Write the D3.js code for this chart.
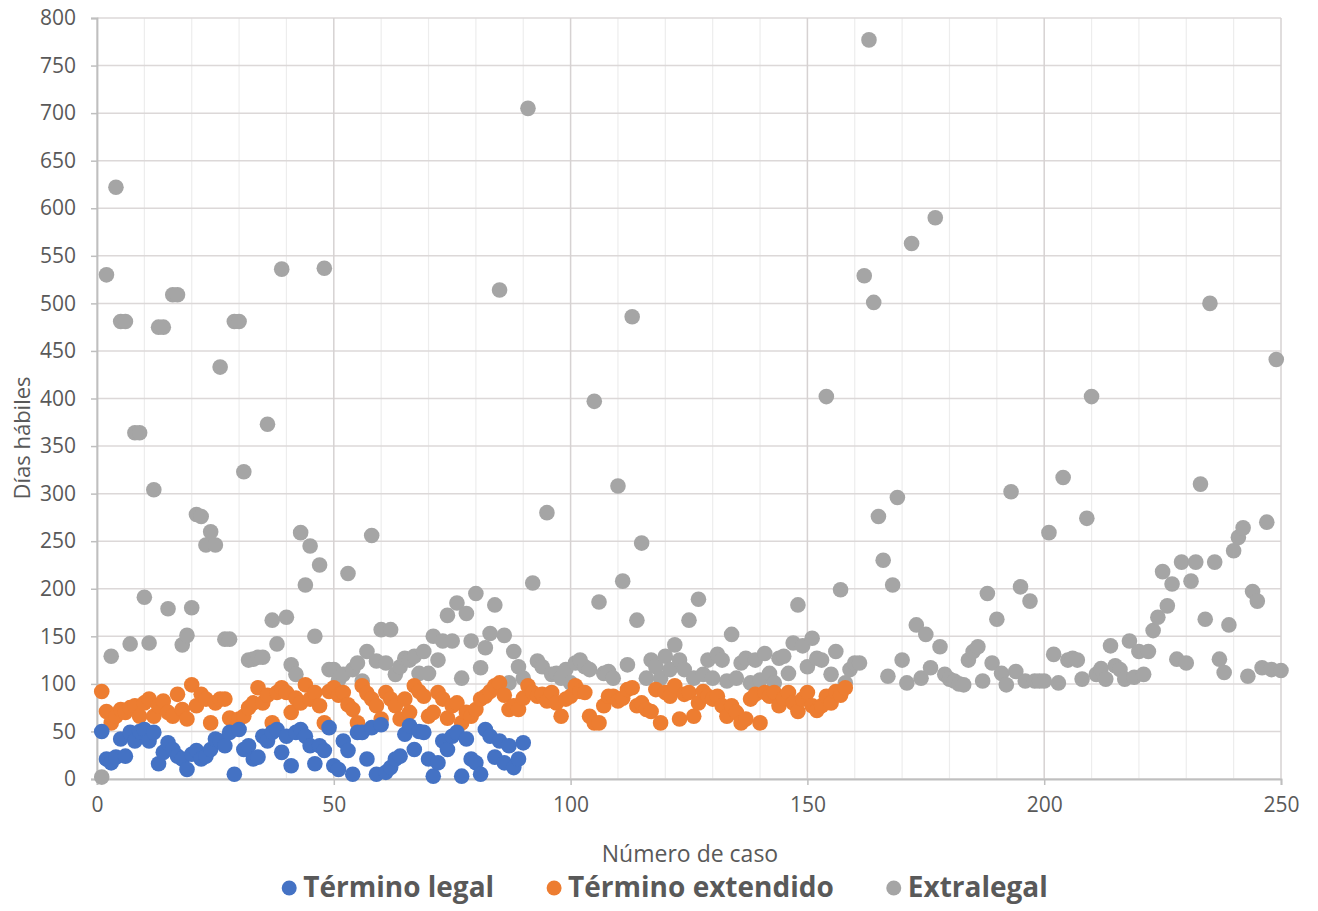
<!DOCTYPE html>
<html>
<head>
<meta charset="utf-8">
<script src="https://cdn.jsdelivr.net/npm/d3@7"></script>
<style>
  body { margin: 0; background: #fff; }
  svg text { font-family: "Open Sans", "DejaVu Sans", sans-serif; }
</style>
</head>
<body>
<svg id="chart" width="1318" height="911"></svg>
<script>
// días hábiles por número de caso (el caso = posición + 1)
var legalDays = [50, 21, 17, 23, 42, 24, 49, 40, 50, 52, 40, 49, 16, 28, 38, 31, 24, 21, 10, 26,
  30, 21, 24, 31, 42, 40, 35, 49, 5, 52, 31, 35, 21, 23, 45, 40, 49, 52, 28, 45,
  14, 49, 52, 45, 35, 16, 35, 30, 54, 14, 10, 40, 30, 5, 49, 49, 21, 54, 5, 57,
  7, 12, 21, 24, 47, 56, 31, 50, 49, 21, 3, 17, 40, 31, 45, 49, 3, 42, 21, 17,
  5, 52, 45, 23, 40, 17, 35, 12, 21, 38];

var extendedDays = [92, 71, 59, 66, 73, 70, 75, 77, 66, 80, 84, 66, 77, 82, 70, 66, 89, 73, 63, 99,
  77, 89, 84, 59, 80, 84, 84, 64, 61, 63, 66, 75, 80, 96, 80, 88, 59, 91, 96, 91,
  70, 85, 80, 99, 84, 91, 77, 59, 92, 96, 88, 91, 78, 73, 59, 98, 90, 84, 77, 63,
  91, 84, 77, 63, 84, 70, 98, 92, 87, 66, 70, 91, 84, 64, 77, 80, 59, 70, 66, 73,
  84, 87, 92, 98, 101, 88, 73, 77, 73, 85, 98, 91, 87, 89, 82, 91, 80, 66, 84, 87,
  98, 92, 91, 66, 59, 59, 77, 87, 87, 82, 85, 94, 96, 77, 80, 73, 71, 94, 59, 91,
  87, 98, 63, 89, 91, 66, 80, 92, 87, 84, 87, 77, 66, 77, 70, 59, 63, 84, 89, 59,
  91, 87, 91, 77, 85, 91, 80, 71, 84, 91, 77, 72, 77, 87, 80, 92, 88, 96];

var extralegalDays = [2, 530, 129, 622, 481, 481, 142, 364, 364, 191,
  143, 304, 475, 475, 179, 509, 509, 141, 151, 180,
  278, 276, 246, 260, 246, 433, 147, 147, 481, 481,
  323, 125, 126, 128, 128, 373, 167, 142, 536, 170,
  120, 110, 259, 204, 245, 150, 225, 537, 115, 115,
  104, 110, 216, 115, 122, 103, 134, 256, 124, 157,
  122, 157, 110, 118, 127, 125, 129, 111, 134, 111,
  150, 125, 145, 172, 145, 185, 106, 174, 145, 195,
  117, 138, 153, 183, 514, 151, 101, 134, 118, 106,
  705, 206, 124, 118, 280, 110, 111, 106, 115, 101,
  122, 125, 118, 115, 397, 186, 111, 113, 106, 308,
  208, 120, 486, 167, 248, 106, 125, 118, 106, 129,
  115, 141, 125, 115, 167, 106, 189, 110, 125, 106,
  131, 125, 103, 152, 106, 122, 127, 101, 125, 104,
  132, 111, 101, 127, 129, 111, 143, 183, 140, 118,
  148, 127, 125, 402, 110, 134, 199, 101, 115, 122,
  122, 529, 777, 501, 276, 230, 108, 204, 296, 125,
  101, 563, 162, 106, 152, 117, 590, 139, 110, 105,
  103, 100, 99, 125, 134, 139, 103, 195, 122, 168,
  111, 99, 302, 113, 202, 103, 187, 103, 103, 103,
  259, 131, 101, 317, 125, 127, 125, 105, 274, 402,
  110, 116, 105, 140, 119, 115, 105, 145, 107, 134,
  110, 134, 156, 170, 218, 182, 205, 126, 228, 122,
  208, 228, 310, 168, 500, 228, 126, 112, 162, 240,
  254, 264, 108, 197, 187, 117, 270, 115, 441, 114];

var seriesNames = ["Término legal", "Término extendido", "Extralegal"];
var seriesColors = ["#4472C4", "#ED7D31", "#A5A5A5"];
var xTicks = [0, 50, 100, 150, 200, 250];
var xMinor = [10, 20, 30, 40, 60, 70, 80, 90, 110, 120, 130, 140, 160, 170, 180, 190, 210, 220, 230, 240];
var yTicks = [0, 50, 100, 150, 200, 250, 300, 350, 400, 450, 500, 550, 600, 650, 700, 750, 800];

var margin = { left: 97, right: 37, top: 18, bottom: 132 };
var width = 1318 - margin.left - margin.right,
    height = 911 - margin.top - margin.bottom;

var svg = d3.select("#chart");
var g = svg.append("g")
    .attr("transform", "translate(" + margin.left + "," + margin.top + ")");

var x = d3.scaleLinear().domain([0, 250]).range([0, width]);
var y = d3.scaleLinear().domain([0, 800]).range([height, 0]);

// rejilla
g.selectAll(".minor").data(xMinor).enter().append("line")
    .attr("x1", function(d){ return x(d); }).attr("x2", function(d){ return x(d); })
    .attr("y1", 0).attr("y2", height)
    .style("stroke", "#ededed").style("stroke-width", 1.2);

g.selectAll(".hgrid").data(yTicks).enter().append("line")
    .attr("x1", 0).attr("x2", width)
    .attr("y1", function(d){ return y(d); }).attr("y2", function(d){ return y(d); })
    .style("stroke", "#dcd8d8").style("stroke-width", 1.5);

g.selectAll(".vgrid").data(xTicks).enter().append("line")
    .attr("x1", function(d){ return x(d); }).attr("x2", function(d){ return x(d); })
    .attr("y1", 0).attr("y2", height)
    .style("stroke", "#d6d2d2").style("stroke-width", 1.5);

// ejes
var yAxis = g.append("g").call(d3.axisLeft(y).tickValues(yTicks).tickSize(6).tickPadding(15));
var xAxis = g.append("g").attr("transform", "translate(0," + height + ")")
    .call(d3.axisBottom(x).tickValues(xTicks).tickSize(6).tickPadding(12));

[yAxis, xAxis].forEach(function(a){
    a.select(".domain").style("stroke", "#bfbfbf").style("stroke-width", 1.8);
    a.selectAll(".tick line").style("stroke", "#bfbfbf").style("stroke-width", 1.5);
    a.selectAll(".tick text")
        .style("font-family", "'Open Sans', sans-serif")
        .style("font-size", "21px")
        .style("fill", "#595959");
});

// puntos
var series = [extralegalDays, extendedDays, legalDays];
var colorOf = [seriesColors[2], seriesColors[1], seriesColors[0]];

series.forEach(function(values, s){
    g.append("g").selectAll("circle")
        .data(values)
        .enter()
        .append("circle")
        .attr("cx", function(d, i){ return x(i + 1); })
        .attr("cy", function(d){ return y(d); })
        .attr("r", 7.8)
        .style("fill", colorOf[s]);
});

// títulos de ejes
svg.append("text")
    .attr("x", 690).attr("y", 862)
    .attr("text-anchor", "middle")
    .style("font-size", "23px")
    .style("fill", "#595959")
    .text("Número de caso");

svg.append("text")
    .attr("transform", "translate(30,438) rotate(-90)")
    .attr("text-anchor", "middle")
    .style("font-size", "22px")
    .style("fill", "#595959")
    .text("Días hábiles");

// leyenda
var legend = svg.append("g");
var items = legend.selectAll("g").data(seriesNames).enter().append("g");
items.append("circle").attr("r", 7.5).attr("cy", -9)
    .style("fill", function(d, i){ return seriesColors[i]; });
items.append("text").attr("x", 14)
    .style("font-size", "28px").style("font-weight", "bold")
    .style("fill", "#595959")
    .text(function(d){ return d; });

var offset = 0;
var widths = [];
items.each(function(){
    widths.push(d3.select(this).select("text").node().getComputedTextLength() + 14);
});
var gap = 60;
var total = d3.sum(widths) + gap * (widths.length - 1) + 7;
var start = 665 - total / 2 + 7;
items.attr("transform", function(d, i){
    var tx = start + offset;
    offset += widths[i] + gap;
    return "translate(" + tx + ",897)";
});
</script>
</body>
</html>
